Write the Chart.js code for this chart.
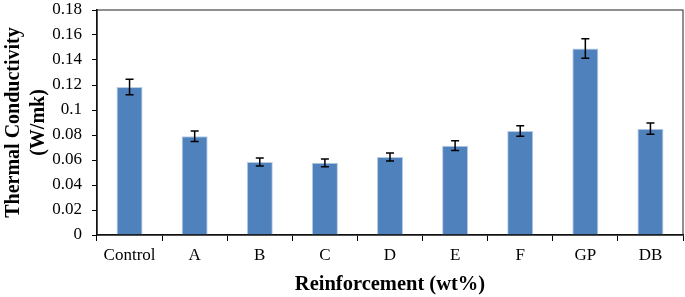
<!DOCTYPE html>
<html>
<head>
<meta charset="utf-8">
<script src="https://cdn.jsdelivr.net/npm/chart.js@4/dist/chart.umd.min.js"></script>
<style>
  html, body { margin: 0; padding: 0; background: #fff; }
  #wrap { width: 685px; height: 297px; }
</style>
</head>
<body>
<div id="wrap"><canvas id="myChart"></canvas></div>
<script>
const categories = ['Control', 'A', 'B', 'C', 'D', 'E', 'F', 'GP', 'DB'];
const conductivity = [0.1185, 0.079, 0.0585, 0.0578, 0.0625, 0.0715, 0.0833, 0.1493, 0.0851];
const errors = [0.0062, 0.0042, 0.0032, 0.0031, 0.0032, 0.0039, 0.0042, 0.0078, 0.0045];

// error bars + frame around the plot area
const errorBars = {
    id: 'errorBars',
    afterDatasetsDraw(chart) {
        const ctx = chart.ctx;
        const y = chart.scales.y;
        const meta = chart.getDatasetMeta(0);
        ctx.save();
        ctx.strokeStyle = '#000';
        ctx.lineWidth = 1.5;
        meta.data.forEach(function (bar, i) {
            const top = y.getPixelForValue(conductivity[i] + errors[i]);
            const bot = y.getPixelForValue(conductivity[i] - errors[i]);
            const x = bar.x;
            ctx.beginPath();
            ctx.moveTo(x, top); ctx.lineTo(x, bot);
            ctx.moveTo(x - 4, top); ctx.lineTo(x + 4, top);
            ctx.moveTo(x - 4, bot); ctx.lineTo(x + 4, bot);
            ctx.stroke();
        });
        const a = chart.chartArea;
        ctx.lineWidth = 1;
        ctx.strokeStyle = '#222';
        ctx.strokeRect(a.left, a.top, a.right - a.left, a.bottom - a.top);
        ctx.restore();
    }
};

const ctx = document.getElementById('myChart');

const myChart = new Chart(ctx, {
    type: 'bar',
    data: {
        labels: categories,
        datasets: [{
            label: 'Thermal Conductivity',
            data: conductivity,
            backgroundColor: '#4F81BD',
            borderColor: '#B9CDE5',
            borderWidth: 1,
            barPercentage: 0.4,
            categoryPercentage: 1.0
        }]
    },
    options: {
        responsive: true,
        maintainAspectRatio: false,
        animation: false,
        layout: { padding: { top: 10, right: 2, left: 1, bottom: 0 } },
        plugins: {
            legend: { display: false },
            tooltip: { enabled: false }
        },
        scales: {
            x: {
                grid: {
                    display: true,
                    drawOnChartArea: false,
                    drawTicks: true,
                    tickLength: 6,
                    color: '#000',
                    offset: true
                },
                border: { color: '#000', width: 1.5 },
                ticks: {
                    color: '#000',
                    padding: 4,
                    font: { family: 'Liberation Serif', size: 17 }
                },
                title: {
                    display: true,
                    text: 'Reinforcement (wt%)',
                    color: '#000',
                    padding: { top: 2, bottom: 0 },
                    font: { family: 'Liberation Serif', size: 20.5, weight: 'bold' }
                },
                afterFit: function (scale) { scale.height = 62; }
            },
            y: {
                min: 0,
                max: 0.18,
                ticks: {
                    stepSize: 0.02,
                    color: '#000',
                    padding: 10,
                    font: { family: 'Liberation Serif', size: 17 },
                    callback: function (v) { return String(Math.round(v * 100) / 100); }
                },
                grid: {
                    display: true,
                    drawOnChartArea: false,
                    drawTicks: true,
                    tickLength: 5,
                    color: '#000'
                },
                border: { color: '#000', width: 1.5 },
                title: {
                    display: true,
                    text: ['Thermal Conductivity', '(W/mk)'],
                    color: '#000',
                    padding: { top: 0, bottom: 0 },
                    font: { family: 'Liberation Serif', size: 20, weight: 'bold', lineHeight: 1.25 }
                },
                afterFit: function (scale) {
                    scale.width = 96;
                    scale.paddingTop = 0;
                    scale.paddingBottom = 0;
                }
            }
        }
    },
    plugins: [errorBars]
});
</script>
</body>
</html>
